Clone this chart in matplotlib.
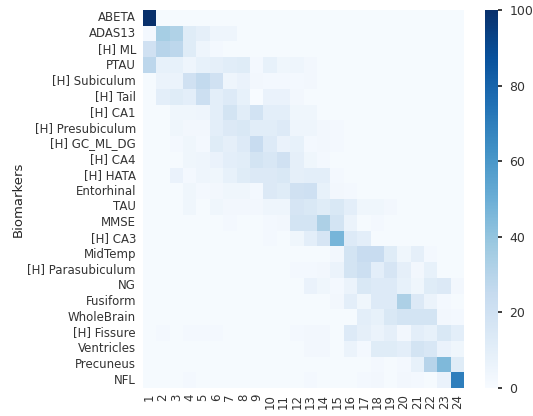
import matplotlib
matplotlib.use("Agg")
import matplotlib.pyplot as plt
import seaborn as sns
import numpy as np

biomarkers = ["ABETA", "ADAS13", "[H] ML", "PTAU", "[H] Subiculum", "[H] Tail",
              "[H] CA1", "[H] Presubiculum", "[H] GC_ML_DG", "[H] CA4", "[H] HATA",
              "Entorhinal", "TAU", "MMSE", "[H] CA3", "MidTemp", "[H] Parasubiculum",
              "NG", "Fusiform", "WholeBrain", "[H] Fissure", "Ventricles", "Precuneus", "NFL"]
positions = [str(i) for i in range(1, 25)]

values = [
    [100, 1, 1, 1, 1, 1, 1, 1, 1, 1, 1, 1, 1, 1, 1, 1, 1, 1, 1, 1, 1, 1, 1, 1],
    [2, 35, 32, 12, 9, 5, 5, 1, 1, 1, 1, 1, 1, 1, 1, 1, 1, 1, 1, 1, 1, 1, 1, 1],
    [20, 30, 28, 12, 5, 2, 1, 1, 1, 1, 1, 1, 1, 1, 1, 1, 1, 1, 1, 1, 1, 1, 1, 1],
    [28, 8, 8, 5, 8, 9, 11, 12, 2, 8, 4, 5, 3, 1, 1, 1, 1, 1, 1, 1, 1, 1, 1, 1],
    [1, 6, 6, 20, 26, 20, 5, 7, 3, 2, 2, 2, 3, 1, 1, 1, 1, 1, 1, 1, 1, 1, 1, 1],
    [1, 10, 12, 10, 22, 10, 13, 8, 0, 7, 7, 3, 1, 1, 1, 1, 1, 1, 1, 1, 1, 1, 1, 1],
    [1, 1, 4, 4, 5, 10, 18, 11, 19, 10, 10, 4, 4, 1, 1, 1, 1, 1, 1, 1, 1, 1, 1, 1],
    [1, 1, 4, 3, 3, 10, 14, 15, 11, 11, 13, 5, 5, 3, 2, 1, 1, 1, 1, 1, 1, 1, 1, 1],
    [1, 1, 2, 4, 2, 12, 9, 13, 24, 13, 7, 8, 2, 3, 2, 1, 1, 1, 1, 1, 1, 1, 1, 1],
    [1, 1, 1, 4, 5, 7, 10, 11, 18, 16, 20, 9, 4, 2, 1, 1, 1, 1, 1, 1, 1, 1, 1, 1],
    [1, 1, 7, 2, 5, 4, 8, 12, 14, 14, 15, 9, 10, 10, 2, 1, 1, 1, 1, 1, 1, 1, 1, 1],
    [1, 1, 1, 4, 2, 3, 4, 4, 2, 14, 12, 20, 21, 8, 3, 2, 1, 1, 1, 1, 1, 1, 1, 1],
    [1, 1, 1, 4, 1, 4, 3, 3, 3, 5, 5, 17, 15, 12, 15, 10, 4, 4, 3, 1, 1, 1, 1, 1],
    [1, 1, 1, 1, 1, 1, 2, 1, 1, 2, 3, 18, 18, 33, 18, 6, 1, 2, 1, 1, 1, 1, 1, 1],
    [1, 1, 1, 1, 1, 1, 1, 1, 1, 2, 1, 4, 10, 17, 47, 13, 10, 1, 1, 1, 1, 1, 1, 1],
    [1, 1, 1, 1, 1, 1, 1, 1, 1, 1, 1, 1, 1, 1, 3, 18, 24, 24, 12, 4, 9, 2, 1, 1],
    [1, 1, 1, 1, 1, 1, 1, 1, 1, 1, 1, 2, 2, 3, 6, 18, 22, 10, 17, 9, 3, 8, 1, 1],
    [1, 1, 1, 1, 1, 1, 1, 1, 1, 1, 1, 1, 7, 4, 2, 6, 15, 13, 13, 8, 4, 12, 14, 3],
    [1, 1, 1, 1, 1, 1, 1, 1, 1, 1, 1, 1, 1, 1, 3, 10, 4, 13, 13, 33, 14, 6, 2, 1],
    [1, 1, 1, 1, 1, 1, 1, 1, 1, 1, 1, 1, 1, 1, 1, 1, 10, 8, 15, 18, 18, 18, 3, 2],
    [1, 2, 1, 2, 2, 2, 1, 1, 1, 1, 1, 2, 3, 3, 1, 13, 9, 6, 9, 3, 10, 8, 15, 10],
    [1, 1, 1, 1, 1, 1, 1, 1, 1, 1, 1, 1, 3, 3, 1, 6, 2, 12, 12, 10, 18, 16, 7, 4],
    [1, 1, 1, 1, 1, 1, 1, 1, 1, 1, 1, 1, 1, 1, 1, 1, 1, 2, 1, 2, 8, 30, 45, 12],
    [1, 1, 1, 2, 1, 1, 1, 1, 1, 1, 1, 1, 2, 1, 1, 1, 2, 3, 1, 3, 2, 1, 7, 70],
]

sns.set_theme(style="white")
plt.rcParams['font.family'] = ['DejaVu Sans']

fig = plt.figure(figsize=(5.33, 4.16), dpi=100)
ax = fig.add_axes([0.268, 0.067, 0.603, 0.909])
cax = fig.add_axes([0.910, 0.067, 0.025, 0.909])

sns.heatmap(np.array(values), ax=ax, cbar_ax=cax, cmap="Blues", vmin=0, vmax=100,
            xticklabels=positions, yticklabels=biomarkers)
ax.set_ylabel("Biomarkers", fontsize=9.5, color="#262626", labelpad=2)
ax.tick_params(axis='x', labelsize=8.5, rotation=90, length=0, pad=4, labelcolor="#333333")
ax.tick_params(axis='y', labelsize=8.5, rotation=0, length=0, pad=5, labelcolor="#333333")
cax.tick_params(labelsize=9, length=3, pad=5, labelcolor="#333333")
cax.set_yticks([0, 20, 40, 60, 80, 100])

fig.savefig("out.png", dpi=100)
